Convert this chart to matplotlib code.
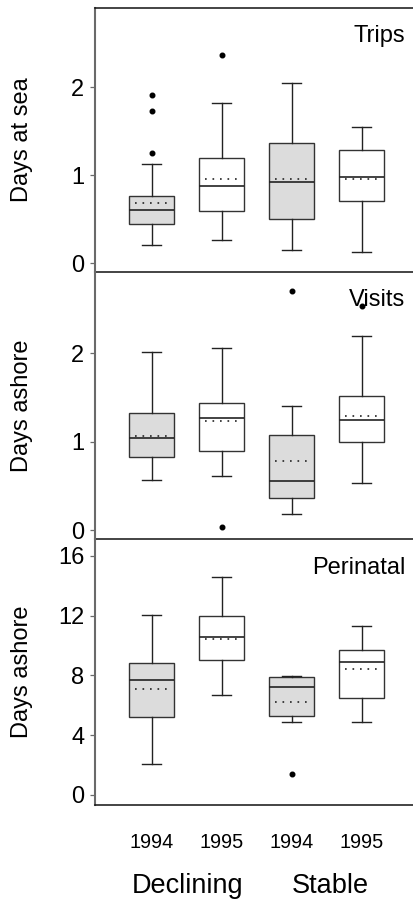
import matplotlib
matplotlib.use('Agg')
import matplotlib.pyplot as plt
import matplotlib.transforms as mtransforms

plt.rcParams['font.family'] = ['Liberation Sans', 'DejaVu Sans']

years = ['1994', '1995', '1994', '1995']
groups = ['Declining', 'Stable']
fills = ['#dcdcdc', 'white', '#dcdcdc', 'white']

# trips: days at sea
trips_lo = [0.21, 0.26, 0.15, 0.13]
trips_q1 = [0.45, 0.59, 0.50, 0.71]
trips_med = [0.60, 0.88, 0.92, 0.98]
trips_mean = [0.68, 0.96, 0.96, 0.96]
trips_q3 = [0.76, 1.20, 1.37, 1.29]
trips_hi = [1.13, 1.82, 2.05, 1.55]
trips_out = [[1.25, 1.73, 1.91], [2.37], [], []]

# visits: days ashore
vis_lo = [0.57, 0.61, 0.18, 0.53]
vis_q1 = [0.83, 0.90, 0.36, 1.00]
vis_med = [1.04, 1.27, 0.56, 1.25]
vis_mean = [1.07, 1.24, 0.78, 1.29]
vis_q3 = [1.32, 1.44, 1.08, 1.52]
vis_hi = [2.02, 2.06, 1.40, 2.20]
vis_out = [[], [0.04], [2.70], [2.54]]

# perinatal: days ashore
per_lo = [2.1, 6.7, 4.9, 4.9]
per_q1 = [5.2, 9.0, 5.3, 6.5]
per_med = [7.7, 10.6, 7.2, 8.9]
per_mean = [7.1, 10.45, 6.25, 8.45]
per_q3 = [8.8, 12.0, 7.9, 9.7]
per_hi = [12.05, 14.6, 7.97, 11.3]
per_out = [[], [], [1.4], []]

panels = [
    ('Trips', 'Days at sea', [0, 1, 2], (-0.1, 2.9),
     trips_lo, trips_q1, trips_med, trips_mean, trips_q3, trips_hi, trips_out),
    ('Visits', 'Days ashore', [0, 1, 2], (-0.1, 2.92),
     vis_lo, vis_q1, vis_med, vis_mean, vis_q3, vis_hi, vis_out),
    ('Perinatal', 'Days ashore', [0, 4, 8, 12, 16], (-0.67, 17.13),
     per_lo, per_q1, per_med, per_mean, per_q3, per_hi, per_out),
]

W, H = 414, 901
fig = plt.figure(figsize=(W / 100, H / 100), dpi=100)
tops = [8, 272, 539]
bots = [272, 539, 805]
left = 95
pos = [1, 2, 3, 4]
spine_grey = '#6a6a6a'

for k, (title, ylab, yt, ylim, lo, q1, med, mn, q3, hi, out) in enumerate(panels):
    ax = fig.add_axes([left / W, 1 - bots[k] / H, 1 - left / W, (bots[k] - tops[k]) / H])
    ax.set_facecolor('none')
    stats = []
    for i in range(4):
        stats.append(dict(whislo=lo[i], q1=q1[i], med=med[i], q3=q3[i],
                          whishi=hi[i], fliers=out[i]))
    bp = ax.bxp(stats, positions=pos, widths=0.64, capwidths=0.27, patch_artist=True,
                showfliers=True,
                boxprops=dict(edgecolor='#333333', linewidth=1.0),
                medianprops=dict(color='#222222', linewidth=1.2),
                whiskerprops=dict(color='#222222', linewidth=1.0),
                capprops=dict(color='#222222', linewidth=1.0),
                flierprops=dict(marker='o', markersize=3.3, markerfacecolor='black',
                                markeredgecolor='black'))
    for patch, c in zip(bp['boxes'], fills):
        patch.set_facecolor(c)
    # dotted mean lines
    for i in range(4):
        ax.plot([pos[i] - 0.24, pos[i] + 0.24], [mn[i], mn[i]], color='#222222',
                linewidth=1.2, linestyle=(0, (1, 3.5)), zorder=4)

    ax.set_xlim(0.19, 4.747)
    ax.set_ylim(*ylim)
    ax.set_yticks(yt)
    ax.tick_params(axis='y', length=3.6, width=0.9, color=spine_grey, pad=4,
                   labelsize=17)
    ax.spines['right'].set_visible(False)
    ax.spines['left'].set_color(spine_grey)
    ax.spines['left'].set_linewidth(1.5)
    ax.spines['bottom'].set_color('#111111')
    ax.spines['bottom'].set_linewidth(1.1)
    ax.spines['top'].set_color('#111111')
    ax.spines['top'].set_linewidth(1.1)
    if k > 0:
        ax.spines['top'].set_visible(False)
    ax.set_ylabel(ylab, fontsize=17)
    ax.yaxis.set_label_coords((33 - left) / (W - left), 0.5)
    ax.text(0.972, 1 - 17.5 / (bots[k] - tops[k]), title, transform=ax.transAxes,
            ha='right', va='top', fontsize=17)
    if k < 2:
        ax.set_xticks([])
    else:
        ax.set_xticks(pos)
        ax.set_xticklabels(years)
        ax.tick_params(axis='x', length=0, pad=20, labelsize=14.3)
        tr = mtransforms.blended_transform_factory(ax.transData, fig.transFigure)
        ax.text(1.51, 1 - 893 / H, groups[0], transform=tr, ha='center',
                va='baseline', fontsize=19.5)
        ax.text(3.55, 1 - 893 / H, groups[1], transform=tr, ha='center',
                va='baseline', fontsize=19.5)

fig.savefig('out.png', dpi=100)
